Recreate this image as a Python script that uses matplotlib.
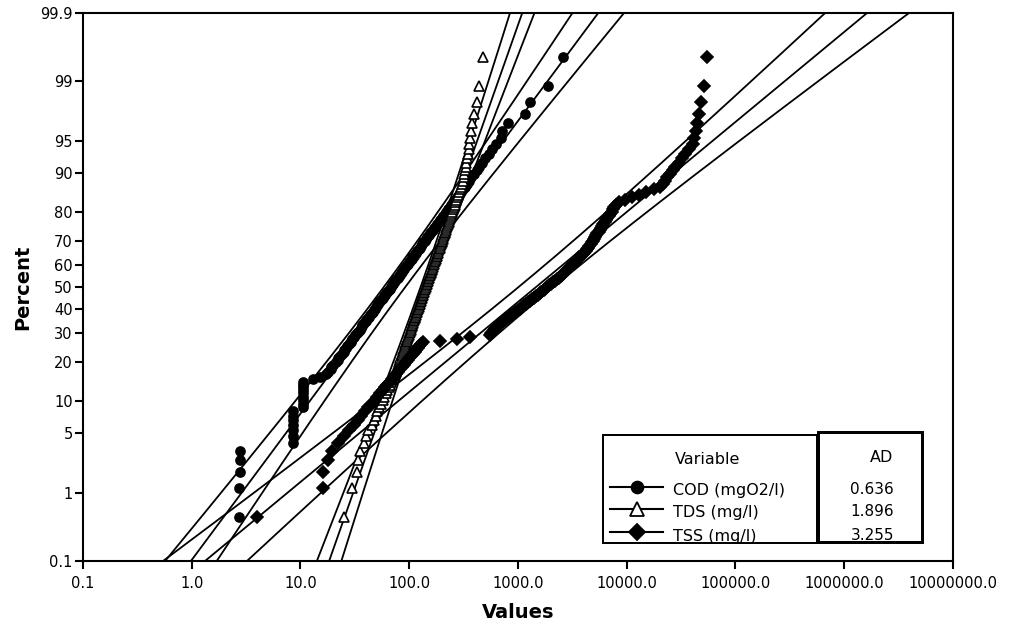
import numpy as np
import matplotlib
matplotlib.use("Agg")
import matplotlib.pyplot as plt
from matplotlib.patches import Rectangle
from matplotlib.ticker import NullLocator
from statistics import NormalDist

ND = NormalDist()

# ---------------- data ----------------
series_names = ["COD (mgO2/l)", "TDS (mg/l)", "TSS (mg/l)"]
ad_values = ["0.636", "1.896", "3.255"]

cod = [2.7, 2.7, 2.8, 2.8, 2.8,
       8.5, 8.5, 8.5, 8.5, 8.5, 8.5, 8.5,
       10.5, 10.5, 10.5, 10.5, 10.5, 10.5, 10.5, 10.5, 10.5,
       13, 15, 17,
       18, 19, 19, 20, 21, 22, 22, 23, 24, 25,
       25, 26, 27, 28, 29, 29, 30, 31, 32, 33,
       34, 35, 36, 37, 37, 38, 40, 40, 42, 43,
       44, 45, 46, 47, 48, 49, 51, 52, 53, 54,
       56, 57, 59, 60, 61, 63, 65, 66, 68, 69,
       71, 73, 74, 76, 78, 80, 82, 84, 86, 88,
       90, 92, 95, 97, 100, 102, 105, 107, 110, 113,
       116, 119, 122, 125, 128, 132, 135, 139, 143, 147,
       151, 156, 160, 165, 170, 175, 181, 186, 192, 198,
       205, 212, 219, 227, 235, 244, 253, 262, 274, 284,
       297, 310, 324, 339, 356, 373, 394, 416, 441, 469,
       500, 537, 581, 631,
       692, 720, 808, 1159, 1288, 1888, 2594]

tds = [25, 30, 33, 34, 35, 38, 40, 42, 45, 47,
       49, 51, 53, 55, 57, 59, 61, 63, 65, 67,
       68, 70, 73, 74, 75, 77, 78, 79, 81, 82,
       83, 85, 86, 87, 88, 90, 91, 92, 94, 95,
       96, 98, 99, 100, 101, 103, 104, 105, 107, 108,
       109, 111, 112, 114, 115, 116, 118, 119, 120, 122,
       123, 125, 126, 128, 129, 131, 132, 134, 135, 137,
       138, 140, 142, 143, 145, 147, 148, 150, 152, 153,
       155, 157, 159, 161, 163, 164, 166, 168, 170, 173,
       175, 177, 179, 181, 183, 185, 188, 190, 192, 195,
       198, 200, 203, 206, 208, 211, 214, 217, 220, 223,
       227, 230, 233, 237, 241, 244, 249, 253, 257, 262,
       266, 271, 276, 282, 287, 293, 300, 306, 313, 317,
       321, 327, 332, 336, 343, 348, 352, 357, 362, 368,
       378, 391, 417, 437, 476]

tss = [4, 16, 16, 18, 19.5, 22, 25, 28, 31, 34,
       36, 39, 42, 45, 48, 51, 54, 57, 60, 63,
       66, 69, 72, 76, 79, 82, 86, 89, 93, 97,
       100, 104, 108, 112, 116, 120, 124, 128, 134,
       192, 275, 362,
       550, 566, 583, 600, 618, 638, 667, 698,
       731, 764, 800, 836, 871, 910, 951, 993, 1038, 1084,
       1130, 1178, 1230, 1282, 1337, 1393, 1452, 1514, 1578, 1644,
       1718, 1786, 1858, 1936, 2014, 2104, 2188, 2280, 2382, 2466,
       2547, 2636, 2723, 2812, 2911, 3000, 3105, 3206, 3319, 3428,
       3548, 3664, 3793, 3926, 4064, 4207, 4345, 4436, 4539, 4656,
       4764, 4875, 5000, 5117, 5248, 5370, 5508, 5649, 5794, 5957,
       6109, 6281, 6457, 6637, 6823, 7031, 7244, 7464, 7691, 7943,
       8472, 9705, 11246, 13032, 15171, 17742, 20417, 21429, 22491, 23659,
       24946, 26424, 28054, 29923, 31989, 34356, 37239, 40551, 41783, 43053,
       44668, 46132, 48529, 51404, 54450]

# fitted lognormal parameters (log10 location and scale)
fit_loc = [1.865, 2.151, 3.166]
fit_scale = [0.606, 0.2873, 0.985]

y_tick_pcts = [0.1, 1, 5, 10, 20, 30, 40, 50, 60, 70, 80, 90, 95, 99, 99.9]
y_tick_labels = ["0.1", "1", "5", "10", "20", "30", "40", "50", "60",
                 "70", "80", "90", "95", "99", "99.9"]
x_ticks = [0.1, 1, 10, 100, 1000, 10000, 100000, 1000000, 10000000]
x_tick_labels = ["0.1", "1.0", "10.0", "100.0", "1000.0", "10000.0",
                 "100000.0", "1000000.0", "10000000.0"]

markers = ["o", "^", "D"]
faces = ["black", "white", "black"]
msizes = [6.5, 7.5, 6.0]

# ---------------- figure ----------------
W, H = 1012, 627
fig = plt.figure(figsize=(W / 100, H / 100), dpi=100)
plt.rcParams['font.family'] = ['DejaVu Sans']

L, R, T, B = 83, 953, 13, 561
ax = fig.add_axes([L / W, 1 - B / H, (R - L) / W, (B - T) / H])

zlim = ND.inv_cdf(0.999)
ax.set_xscale("log")
ax.set_xlim(0.1, 1e7)
ax.set_ylim(-zlim, zlim)

zz = np.linspace(-3.4, 3.4, 400)
datasets = [cod, tds, tss]
for k, vals in enumerate(datasets):
    n = len(vals)
    loc, sc = fit_loc[k], fit_scale[k]
    center = loc + sc * zz
    half = 1.96 * sc * np.sqrt((1 + zz ** 2 / 2) / n)
    for curve in (center - half, center, center + half):
        ax.plot(10 ** curve, zz, color="black", lw=1.3, zorder=2)

for k, vals in enumerate(datasets):
    n = len(vals)
    v = np.sort(np.asarray(vals, dtype=float))
    zpos = [ND.inv_cdf((i - 0.3) / (n + 0.4)) for i in range(1, n + 1)]
    ax.plot(v, zpos, linestyle="none", marker=markers[k], ms=msizes[k],
            mfc=faces[k], mec="black", mew=1.2, zorder=3)

ax.set_yticks([ND.inv_cdf(p / 100) for p in y_tick_pcts])
ax.set_yticklabels(y_tick_labels)
ax.set_xticks(x_ticks)
ax.set_xticklabels(x_tick_labels)
ax.xaxis.set_minor_locator(NullLocator())
ax.yaxis.set_minor_locator(NullLocator())
ax.tick_params(axis="both", direction="out", length=6, width=1.5,
               labelsize=10.5, color="black")
ax.tick_params(axis="y", pad=1.5)
ax.tick_params(axis="x", pad=5)
for s in ax.spines.values():
    s.set_linewidth(1.5)

fig.text(23 / W, 1 - 287 / H, "Percent", rotation=90, ha="center",
         va="center", fontsize=14, fontweight="bold")
fig.text(518 / W, 1 - 612 / H, "Values", ha="center", va="center",
         fontsize=14, fontweight="bold")

# ---------------- legend table (pixel coordinates) ----------------
lg = fig.add_axes([0, 0, 1, 1], zorder=10)
lg.set_xlim(0, W)
lg.set_ylim(H, 0)
lg.axis("off")
lg.patch.set_alpha(0)

lg.add_patch(Rectangle((603, 435), 214, 108, facecolor="white",
                       edgecolor="black", lw=1.3, zorder=1))
lg.add_patch(Rectangle((818, 432), 104, 110, facecolor="white",
                       edgecolor="black", lw=2.0, zorder=1))
lg.text(675, 459, "Variable", ha="left", va="center", fontsize=11.5, zorder=2)
lg.text(893, 458, "AD", ha="right", va="center", fontsize=11.5, zorder=2)
handle_y = [487, 509, 532]
text_y = [490, 512, 536]
for k, name in enumerate(series_names):
    y = handle_y[k]
    lg.plot([610, 663], [y, y], color="black", lw=1.5, zorder=2)
    lg.plot([637], [y], marker=markers[k], ms=msizes[k] + 2,
            mfc=faces[k], mec="black", mew=1.3, zorder=3)
    lg.text(673, text_y[k], name, ha="left", va="center", fontsize=11.5,
            zorder=2)
    lg.text(894, text_y[k], ad_values[k], ha="right", va="center",
            fontsize=11, zorder=2)
# box outlines drawn on top so they cut the last row like the original
lg.add_patch(Rectangle((603, 435), 214, 108, facecolor="none",
                       edgecolor="black", lw=1.3, zorder=5))
lg.add_patch(Rectangle((818, 432), 104, 110, facecolor="none",
                       edgecolor="black", lw=2.0, zorder=5))

fig.savefig("out.png", dpi=100)
